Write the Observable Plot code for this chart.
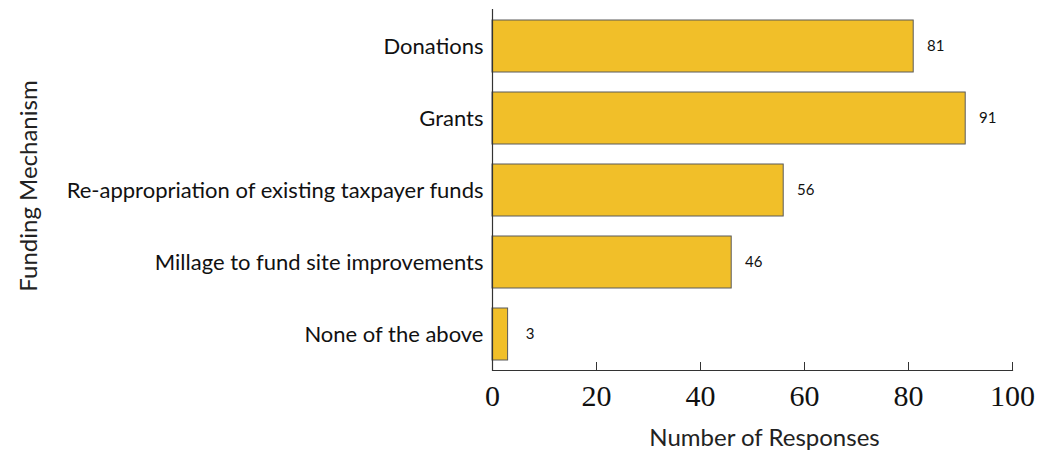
<!DOCTYPE html>
<html><head><meta charset="utf-8">
<script src="https://cdn.jsdelivr.net/npm/d3@7"></script>
<script src="https://cdn.jsdelivr.net/npm/@observablehq/plot@0.6"></script>
<style>body{margin:0;background:#fff}</style>
</head><body><div id="chart"></div>
<script>
const categories = ["Donations", "Grants", "Re-appropriation of existing taxpayer funds", "Millage to fund site improvements", "None of the above"];
const responses = [81, 91, 56, 46, 3];
const xTicks = [0, 20, 40, 60, 80, 100];
const xTitle = "Number of Responses";
const yTitle = "Funding Mechanism";

const data = categories.map((c, i) => ({category: c, value: responses[i]}));
const sans = "Lato, 'Open Sans', sans-serif";

const chart = Plot.plot({
  width: 1059, height: 451,
  marginTop: 9, marginBottom: 81, marginLeft: 492, marginRight: 47,
  style: {background: "#fff", fontFamily: sans, color: "#111"},
  x: {domain: [0, 100]},
  y: {domain: categories, paddingInner: 0.28, paddingOuter: 0.14},
  marks: [
    Plot.barX(data, {y: "category", x: "value", fill: "#F1BF29", stroke: "#5a5a5a", strokeWidth: 1}),
    Plot.text(data, {y: "category", x: "value", text: d => String(d.value), dx: 22, textAnchor: "middle", fontSize: 15, fill: "#111"}),
    Plot.ruleX([0], {stroke: "#333", strokeWidth: 1.2}),
    Plot.frame({anchor: "bottom", stroke: "#333", strokeWidth: 1.2}),
    Plot.axisX({ticks: xTicks, tickSize: -8, tickPadding: 22, fontSize: 30, fontFamily: "'Liberation Serif', serif", label: null, stroke: "#333", fill: "#111"}),
    Plot.axisY({tickSize: 0, tickPadding: 9, fontSize: 22, label: null, fill: "#111"}),
    Plot.text([xTitle], {frameAnchor: "bottom", textAnchor: "middle", lineAnchor: "middle", dx: 12, dy: 68, fontSize: 24, fill: "#222"}),
    Plot.text([yTitle], {frameAnchor: "left", textAnchor: "middle", lineAnchor: "middle", rotate: -90, dx: -463, dy: -4, fontSize: 24, fill: "#222"})
  ]
});
document.getElementById("chart").append(chart);
</script>
</body></html>
